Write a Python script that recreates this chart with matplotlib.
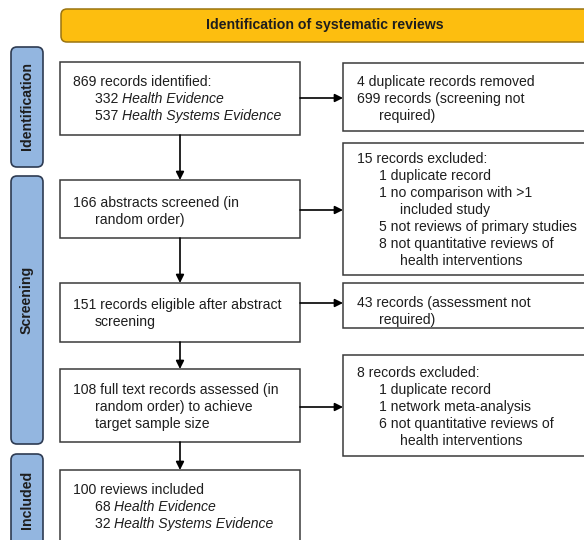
import matplotlib
matplotlib.use("Agg")
import matplotlib.pyplot as plt
from matplotlib.patches import FancyBboxPatch, Rectangle

plt.rcParams['font.family'] = ['Liberation Sans', 'DejaVu Sans']

# ---- content ----
title = "Identification of systematic reviews"
stages = ["Identification", "Screening", "Included"]

# left (main) boxes: list of lines (indent level, plain text, italic text)
main_boxes = [
    [(0, "869 records identified:", ""), (1, "332 ", "Health Evidence"), (1, "537 ", "Health Systems Evidence")],
    [(0, "166 abstracts screened (in", ""), (1, "random order)", "")],
    [(0, "151 records eligible after abstract", ""), (1, "screening", "")],
    [(0, "108 full text records assessed (in", ""), (1, "random order) to achieve", ""), (1, "target sample size", "")],
    [(0, "100 reviews included", ""), (1, "68 ", "Health Evidence"), (1, "32 ", "Health Systems Evidence")],
]
side_boxes = [
    [(0, "4 duplicate records removed"), (0, "699 records (screening not"), (1, "required)")],
    [(0, "15 records excluded:"), (1, "1 duplicate record"), (1, "1 no comparison with >1"),
     (2, "included study"), (1, "5 not reviews of primary studies"),
     (1, "8 not quantitative reviews of"), (2, "health interventions")],
    [(0, "43 records (assessment not"), (1, "required)")],
    [(0, "8 records excluded:"), (1, "1 duplicate record"), (1, "1 network meta-analysis"),
     (1, "6 not quantitative reviews of"), (2, "health interventions")],
]

# ---- layout (pixel coordinates) ----
W, H = 584, 540
fig = plt.figure(figsize=(W / 100, H / 100), dpi=100)
ax = fig.add_axes([0, 0, 1, 1])
ax.set_xlim(0, W)
ax.set_ylim(H, 0)
ax.axis('off')

EDGE = '#3a3a3a'
TXT = '#1e1e1e'
FS = 10.1

# banner
ax.add_patch(FancyBboxPatch((61, 9), 540, 33, boxstyle="round,pad=0,rounding_size=6",
                            fc='#FDBE0F', ec='#9A7410', lw=1.1, clip_on=True))
ax.text(325, 25.5, title, ha='center', va='center', fontsize=10.2, fontweight='bold', color=TXT)

# stage labels
stage_spans = [(47, 167), (176, 444), (454, 580)]
for name, (y0, y1) in zip(stages, stage_spans):
    ax.add_patch(FancyBboxPatch((11, y0), 32, y1 - y0, boxstyle="round,pad=0,rounding_size=6",
                                fc='#93B6E0', ec='#2E3B52', lw=1.2))
stage_centers = [106, 300, 500]
for name, cy in zip(stages, stage_centers):
    ax.text(27, cy, name, rotation=90, ha='center', va='center', fontsize=10.2,
            fontweight='bold', color=TXT)

# main boxes
main_y = [(62, 135), (180, 238), (283, 342), (369, 442), (470, 580)]
main_first = [82, 203, 305, 390, 490]
LX0, LX1 = 60, 300
indent_main = [73, 95]
for (y0, y1), lines, fy in zip(main_y, main_boxes, main_first):
    ax.add_patch(Rectangle((LX0, y0), LX1 - LX0, y1 - y0, fc='white', ec=EDGE, lw=1.1))
    for i, (lvl, plain, ital) in enumerate(lines):
        t = ax.text(indent_main[lvl], fy + 17 * i, plain, ha='left', va='center',
                    fontsize=FS, color=TXT)
        if ital:
            ax.annotate(ital, xy=(1, 0), xycoords=t, ha='left', va='bottom',
                        fontsize=FS, style='italic', color=TXT)

# vertical arrows
for (a0, a1), (b0, b1) in zip(main_y[:-1], main_y[1:]):
    ax.annotate('', xy=(180, b0), xytext=(180, a1),
                arrowprops=dict(arrowstyle='-|>', color='black', lw=1.2,
                                mutation_scale=12, shrinkA=0, shrinkB=0))

# side boxes
side_y = [(63, 131), (143, 275), (283, 328), (355, 456)]
side_first = [82, 159, 303, 373]
arrow_y = [98, 210, 303, 407]
RX0, RX1 = 343, 600
indent_side = [357, 379, 400]
for (y0, y1), lines, fy, ay in zip(side_y, side_boxes, side_first, arrow_y):
    ax.add_patch(Rectangle((RX0, y0), RX1 - RX0, y1 - y0, fc='white', ec=EDGE, lw=1.1))
    for i, (lvl, s) in enumerate(lines):
        ax.text(indent_side[lvl], fy + 17 * i, s, ha='left', va='center',
                fontsize=FS, color=TXT)
    ax.annotate('', xy=(RX0, ay), xytext=(LX1, ay),
                arrowprops=dict(arrowstyle='-|>', color='black', lw=1.2,
                                mutation_scale=12, shrinkA=0, shrinkB=0))

fig.savefig('out.png', dpi=100)
